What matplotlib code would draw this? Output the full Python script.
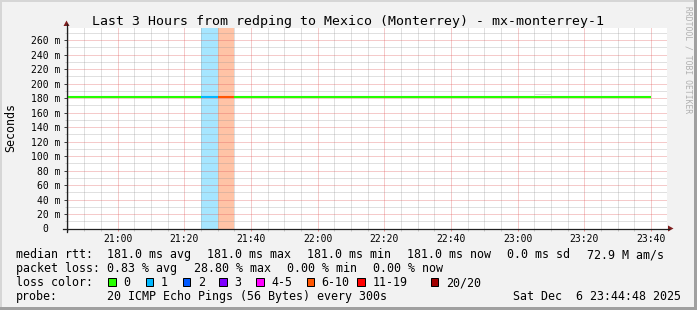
import numpy as np
import matplotlib
matplotlib.use("Agg")
from matplotlib import pyplot as plt
from matplotlib.lines import Line2D
from matplotlib.patches import Rectangle, Polygon

W, H = 697, 310
MONO = "DejaVu Sans Mono"

title = "Last 3 Hours from redping to Mexico (Monterrey) - mx-monterrey-1"
t_start = "20:44:48"
t_end = "23:44:48"

# rrd bins (end time of each 5 min step)
bin_end = ["20:45", "20:50", "20:55", "21:00", "21:05", "21:10", "21:15", "21:20", "21:25",
           "21:30", "21:35", "21:40", "21:45", "21:50", "21:55", "22:00", "22:05", "22:10",
           "22:15", "22:20", "22:25", "22:30", "22:35", "22:40", "22:45", "22:50", "22:55",
           "23:00", "23:05", "23:10", "23:15", "23:20", "23:25", "23:30", "23:35", "23:40"]
median_ms = [181.0, 181.0, 181.0, 181.0, 181.0, 181.0, 181.0, 181.0, 181.0,
             181.0, 181.0, 181.0, 181.0, 181.0, 181.0, 181.0, 181.0, 181.0,
             181.0, 181.0, 181.0, 181.0, 181.0, 181.0, 181.0, 181.0, 181.0,
             181.0, 181.0, 181.0, 181.0, 181.0, 181.0, 181.0, 181.0, 181.0]
loss_pct = [0, 0, 0, 0, 0, 0, 0, 0, 0,
            5.0, 28.8, 0, 0, 0, 0, 0, 0, 0,
            0, 0, 0, 0, 0, 0, 0, 0, 0,
            0, 0, 0, 0, 0, 0, 0, 0, 0]
# visible smoke outside the median line
smoke = {"23:10": (183.5, 185.5)}

loss_names = ["0", "1", "2", "3", "4-5", "6-10", "11-19", "20/20"]
loss_upper = [0, 1, 2, 3, 5, 10, 19, 20]
loss_colors = ["#26ff00", "#00b8ff", "#0059ff", "#7e00ff",
               "#ff00ff", "#ff5500", "#ff0000", "#a10000"]
pings = 20

xtick_labels = ["21:00", "21:20", "21:40", "22:00", "22:20", "22:40", "23:00", "23:20", "23:40"]
ytick_values = [0, 20, 40, 60, 80, 100, 120, 140, 160, 180, 200, 220, 240, 260]

rtt_stats = ["181.0 ms avg", "181.0 ms max", "181.0 ms min", "181.0 ms now", "0.0 ms sd", "72.9 M am/s"]
loss_stats = ["0.83 % avg", "28.80 % max", "0.00 % min", "0.00 % now"]
probe_text = "20 ICMP Echo Pings (56 Bytes) every 300s"
stamp = "Sat Dec  6 23:44:48 2025"


def mins(s):
    p = [int(v) for v in s.split(":")]
    return p[0] * 60 + p[1] + (p[2] / 60 if len(p) > 2 else 0)


def fx(x):
    return x / W


def fy(y):
    return 1 - y / H


def loss_color(pct):
    n = int(round(pct / 100 * pings))
    for up, c in zip(loss_upper, loss_colors):
        if n <= up:
            return c
    return loss_colors[-1]


fig = plt.figure(figsize=(W / 100, H / 100), dpi=100, facecolor="#f2f2f2")

# 3d frame of the rrdtool canvas
fig.add_artist(Rectangle((0, 0), fx(2), 1, transform=fig.transFigure, color="#d6d6d6", lw=0))
fig.add_artist(Rectangle((0, fy(2)), 1, 2 / H, transform=fig.transFigure, color="#d6d6d6", lw=0))
fig.add_artist(Rectangle((fx(W - 3), 0), 3 / W, 1, transform=fig.transFigure, color="#a0a0a0", lw=0))
fig.add_artist(Rectangle((0, 0), 1, 3 / H, transform=fig.transFigure, color="#a0a0a0", lw=0))

left, right, top, bottom = 67, 667, 27.7, 228.5
ax = fig.add_axes([fx(left), fy(bottom), (right - left) / W, (bottom - top) / H])
ax.set_facecolor("white")
for s in ax.spines.values():
    s.set_visible(False)

x0, x1 = mins(t_start), mins(t_end)
ax.set_xlim(x0, x1)
ax.set_ylim(0, 277)

ax.set_xticks([mins(t) for t in xtick_labels])
ax.set_xticklabels(xtick_labels)
ax.set_xticks(np.arange(1245, x1, 5), minor=True)
ax.set_yticks(ytick_values)
ax.set_yticklabels(["0  " if v == 0 else "%d m" % v for v in ytick_values])
ax.set_yticks(np.arange(10, 277, 10), minor=True)

ax.grid(which="minor", color="#8f8f8f", alpha=0.55, lw=0.72, ls=(0, (1, 1)))
ax.grid(which="major", color="#de5050", alpha=0.6, lw=0.72, ls=(0, (1, 1)))
ax.tick_params(axis="x", which="major", length=1.5, width=0.72, color="#e58a8a", pad=2.6,
               labelsize=7, labelfontfamily=MONO)
ax.tick_params(axis="x", which="minor", length=1.5, width=0.72, color="#c8c8c8")
ax.tick_params(axis="y", which="major", length=2.2, width=0.72, color="#404040", pad=2.6,
               labelsize=7, labelfontfamily=MONO)
ax.tick_params(axis="y", which="minor", length=1.5, width=0.72, color="#c8c8c8")

# loss shading and median line
for i, t in enumerate(bin_end):
    xe = mins(t)
    xs = xe - 5
    c = loss_color(loss_pct[i])
    if loss_pct[i] > 0:
        ax.axvspan(max(xs, x0), xe, color=c, alpha=0.35, lw=0, zorder=1)
    if t in smoke:
        lo, hi = smoke[t]
        ax.fill_between([xs, xe], lo, hi, color="#dcdcdc", lw=0, zorder=2)
    ax.hlines(median_ms[i], max(xs, x0), xe, color=c, lw=1.5, zorder=3)

# axes with arrows
axis_c = "#202020"
arrow_c = "#7f1f1f"
fig.add_artist(Line2D([fx(63), fx(669)], [fy(bottom), fy(bottom)], color=axis_c, lw=0.9))
fig.add_artist(Line2D([fx(66.5), fx(66.5)], [fy(231.5), fy(24)], color=axis_c, lw=0.9))
fig.add_artist(Polygon([(fx(66.5), fy(20.5)), (fx(63.5), fy(26)), (fx(69.5), fy(26))],
                       closed=True, transform=fig.transFigure, color=arrow_c, lw=0))
fig.add_artist(Polygon([(fx(673.5), fy(bottom)), (fx(668), fy(bottom - 3)), (fx(668), fy(bottom + 3))],
                       closed=True, transform=fig.transFigure, color=arrow_c, lw=0))

fig.text(fx(347.8), fy(24.5), title, family=MONO, size=9.5, ha="center", va="baseline")
fig.text(fx(10.5), fy(127.5), "Seconds", family=MONO, size=8.4, rotation=90,
         ha="center", va="center")
fig.text(fx(688), fy(60), "RRDTOOL / TOBI OETIKER", family=MONO, size=5.8, rotation=270,
         ha="center", va="center", color="#b0b0b0")

# legend
fs = 8.4
rows = [258.3, 272.2, 286.1, 300]
fig.text(fx(16), fy(rows[0]), "median rtt:", family=MONO, size=fs, va="baseline")
for x, s in zip([107.3, 207.3, 307.3, 407.3, 507.3, 587.3], rtt_stats):
    fig.text(fx(x), fy(rows[0]), s, family=MONO, size=fs, va="baseline")
fig.text(fx(16), fy(rows[1]), "packet loss:", family=MONO, size=fs, va="baseline")
for x, s in zip([107.3, 194.3, 286.7, 372.7], loss_stats):
    fig.text(fx(x), fy(rows[1]), s, family=MONO, size=fs, va="baseline")
fig.text(fx(16), fy(rows[2]), "loss color:", family=MONO, size=fs, va="baseline")
for bx, name, c in zip([108, 145.7, 182.7, 219.3, 256, 306.7, 357.3, 430.7], loss_names, loss_colors):
    fig.add_artist(Rectangle((fx(bx), fy(rows[2])), 7.5 / W, 8 / H, transform=fig.transFigure,
                             facecolor=c, edgecolor="black", lw=0.72))
    fig.text(fx(bx + 15), fy(rows[2]), name, family=MONO, size=fs, va="baseline")
fig.text(fx(16), fy(rows[3]), "probe:", family=MONO, size=fs, va="baseline")
fig.text(fx(107.3), fy(rows[3]), probe_text, family=MONO, size=fs, va="baseline")
fig.text(fx(513.3), fy(rows[3]), stamp, family=MONO, size=fs, va="baseline")

fig.savefig("out.png", dpi=100, facecolor=fig.get_facecolor())
